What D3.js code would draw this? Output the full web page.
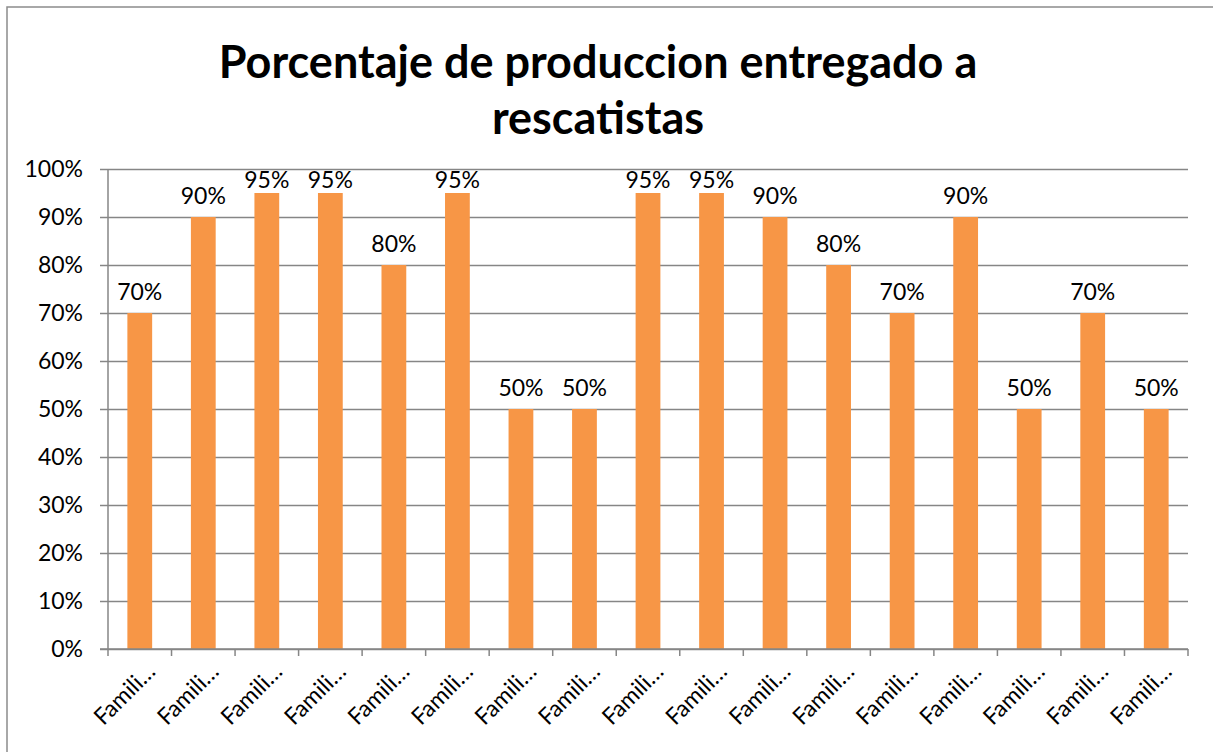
<!DOCTYPE html>
<html>
	<head>
		<meta charset="utf-8">
		<title>Porcentaje de produccion entregado a rescatistas</title>
		<script src="https://cdn.jsdelivr.net/npm/d3@7"></script>
		<style>
			body { margin: 0; background: #fff; }
		</style>
	</head>
	<body>
		<div id='viz'></div>
		<script>
			var width = 1213,
				height = 752;

			var categories = ['Famili…','Famili…','Famili…','Famili…','Famili…','Famili…','Famili…','Famili…','Famili…',
				'Famili…','Famili…','Famili…','Famili…','Famili…','Famili…','Famili…','Famili…'];
			var values = [0.70, 0.90, 0.95, 0.95, 0.80, 0.95, 0.50, 0.50, 0.95, 0.95, 0.90, 0.80, 0.70, 0.90, 0.50, 0.70, 0.50];
			var yTicks = [0, 0.1, 0.2, 0.3, 0.4, 0.5, 0.6, 0.7, 0.8, 0.9, 1.0];
			var titleLines = ['Porcentaje de produccion entregado a', 'rescatistas'];

			var font = 'Lato, "Open Sans", sans-serif';
			var margin = {left: 108, right: 25, top: 169, bottom: 103};

			var svg = d3.select('#viz')
				.append('svg')
				.attr('width', width)
				.attr('height', height);

			// chart border
			svg.append('rect')
				.attr('x', 7).attr('y', 7)
				.attr('width', width + 10).attr('height', height + 10)
				.attr('fill', 'none')
				.attr('stroke', '#8c8c8c')
				.attr('stroke-width', 1.5);

			var x = d3.scaleBand()
				.domain(d3.range(categories.length))
				.range([margin.left, width - margin.right])
				.paddingInner(0.61)
				.paddingOuter(0.305);

			var y = d3.scaleLinear()
				.domain([0, 1])
				.range([height - margin.bottom, margin.top]);

			// title
			svg.append('g')
				.selectAll('text')
				.data(titleLines)
				.join('text')
				.attr('x', 598)
				.attr('y', (d, i) => 78 + i * 56)
				.attr('text-anchor', 'middle')
				.attr('font-family', font)
				.attr('font-weight', 'bold')
				.attr('font-size', 45)
				.attr('fill', '#000')
				.text(d => d);

			// gridlines + y axis
			var yAxis = d3.axisLeft(y)
				.tickValues(yTicks)
				.tickFormat(d3.format('.0%'))
				.tickSize(-(width - margin.right - margin.left))
				.tickPadding(25);
			var gy = svg.append('g')
				.attr('transform', `translate(${margin.left},0)`)
				.call(yAxis);
			gy.select('.domain').remove();
			gy.selectAll('.tick line')
				.attr('x1', -8)
				.attr('x2', width - margin.right - margin.left)
				.attr('stroke', '#868686')
				.attr('stroke-width', 1.5);
			gy.selectAll('.tick text')
				.attr('font-family', font)
				.attr('font-size', 23)
				.attr('fill', '#000');

			svg.append('line')
				.attr('x1', margin.left).attr('x2', margin.left)
				.attr('y1', y(1)).attr('y2', y(0))
				.attr('stroke', '#868686')
				.attr('stroke-width', 1.5);

			// bars
			svg.append('g')
				.selectAll('rect')
				.data(values)
				.join('rect')
				.attr('x', (d, i) => x(i))
				.attr('y', d => y(d))
				.attr('width', x.bandwidth())
				.attr('height', d => y(0) - y(d))
				.attr('fill', '#f79646');

			// x axis
			var step = x.step();
			var gx = svg.append('g')
				.attr('transform', `translate(0,${y(0)})`);
			gx.append('line')
				.attr('x1', margin.left - 8).attr('x2', width - margin.right)
				.attr('stroke', '#868686').attr('stroke-width', 1.5);
			gx.selectAll('line.tk')
				.data(d3.range(categories.length + 1))
				.join('line')
				.attr('class', 'tk')
				.attr('x1', i => margin.left + i * step)
				.attr('x2', i => margin.left + i * step)
				.attr('y1', 0).attr('y2', 7)
				.attr('stroke', '#868686').attr('stroke-width', 1.5);
			gx.selectAll('text')
				.data(categories)
				.join('text')
				.attr('text-anchor', 'end')
				.attr('transform', (d, i) => `translate(${x(i) + x.bandwidth() / 2 + 17},${24}) rotate(-45)`)
				.attr('font-family', font)
				.attr('font-size', 23)
				.attr('fill', '#000')
				.text(d => d);

			// data labels (kept inside the plot area, like Excel does)
			svg.append('g')
				.selectAll('text')
				.data(values)
				.join('text')
				.attr('x', (d, i) => x(i) + x.bandwidth() / 2)
				.attr('y', d => Math.max(y(d) - 13, y(1) + 19))
				.attr('text-anchor', 'middle')
				.attr('font-family', font)
				.attr('font-size', 23)
				.attr('fill', '#000')
				.text(d => d3.format('.0%')(d));
		</script>
	</body>
</html>
